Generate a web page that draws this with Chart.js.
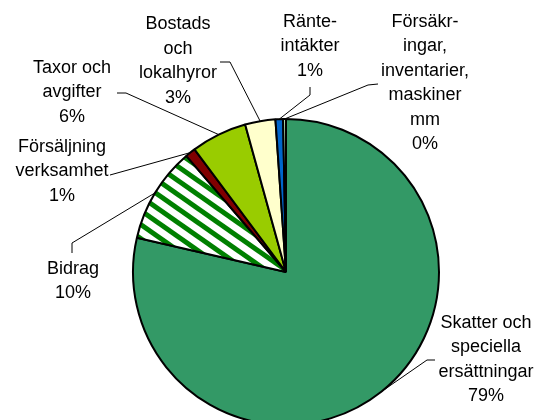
<!DOCTYPE html>
<html>
<head>
<meta charset="utf-8">
<script src="https://cdn.jsdelivr.net/npm/chart.js@4.4.1/dist/chart.umd.min.js"></script>
<style>
  html, body { margin: 0; padding: 0; background: #fff; }
  #wrap { width: 537px; height: 420px; }
</style>
</head>
<body>
<div id="wrap"><canvas id="myChart"></canvas></div>
<script>
// Categories (line breaks as in the labels)
const categories = [
    'Skatter och\nspeciella\nersättningar',
    'Bidrag',
    'Försäljning\nverksamhet',
    'Taxor och\navgifter',
    'Bostads\noch\nlokalhyror',
    'Ränte-\nintäkter',
    'Försäkr-\ningar,\ninventarier,\nmaskiner\nmm'
]

// Share of income, percent
const shares = [78.6, 10.1, 1.1, 5.9, 3.2, 0.8, 0.3]

const sliceColors = ['#339966', 'stripes', '#800000', '#99CC00', '#FFFFCC', '#0066CC', '#CCFFCC']

// Where each label sits and where its leader line leaves it
const labelLayout = [
    { x: 486, y: 323, path: [[435, 360], [427, 360]] },
    { x: 73,  y: 269, path: [[72, 253], [72, 243]] },
    { x: 62,  y: 147, path: [[110, 175]] },
    { x: 72,  y: 68,  path: [[117, 93], [126, 93]] },
    { x: 178, y: 24.5, path: [[220, 62], [230, 62]] },
    { x: 310, y: 22,  path: [[310, 87], [310, 95]] },
    { x: 425, y: 22,  path: [[378, 84], [368, 85]] }
]
const lineHeight = 24.5

// Green/white diagonal hatch used by "Bidrag"
function makeStripes() {
    const W = 20, H = 14
    const c = document.createElement('canvas')
    c.width = W
    c.height = H
    const g = c.getContext('2d')
    g.fillStyle = '#fff'
    g.fillRect(0, 0, W, H)
    g.strokeStyle = '#008000'
    g.lineWidth = 5
    for (let k = -1; k <= 1; k++) {
        g.beginPath()
        g.moveTo(-W, -H + k * H)
        g.lineTo(2 * W, 2 * H + k * H)
        g.stroke()
    }
    return g.createPattern(c, 'repeat')
}

const total = shares.reduce((a, b) => a + b, 0)

const pieLabels = {
    id: 'pieLabels',
    afterDatasetsDraw(chart) {
        const ctx = chart.ctx
        const arcs = chart.getDatasetMeta(0).data
        ctx.save()
        ctx.font = '18px "Liberation Sans", Arial, sans-serif'
        ctx.fillStyle = '#000'
        ctx.strokeStyle = '#000'
        ctx.lineWidth = 1
        ctx.textAlign = 'center'
        ctx.textBaseline = 'middle'
        arcs.forEach((arc, i) => {
            const p = arc.getProps(['x', 'y', 'startAngle', 'endAngle', 'outerRadius'], true)
            const mid = (p.startAngle + p.endAngle) / 2
            const ex = p.x + Math.cos(mid) * p.outerRadius
            const ey = p.y + Math.sin(mid) * p.outerRadius
            const lay = labelLayout[i]

            // leader line
            ctx.beginPath()
            ctx.moveTo(lay.path[0][0], lay.path[0][1])
            lay.path.slice(1).forEach(pt => ctx.lineTo(pt[0], pt[1]))
            ctx.lineTo(ex, ey)
            ctx.stroke()

            // label text
            const pct = Math.round(shares[i] / total * 100) + '%'
            const lines = categories[i].split('\n').concat(pct)
            lines.forEach((t, j) => ctx.fillText(t, lay.x, lay.y + j * lineHeight))
        })
        ctx.restore()
    }
}

const ctx = document.getElementById('myChart').getContext('2d')
const stripes = makeStripes()

new Chart(ctx, {
    type: 'pie',
    data: {
        labels: categories,
        datasets: [{
            data: shares,
            backgroundColor: sliceColors.map(c => c === 'stripes' ? stripes : c),
            borderColor: '#000',
            borderWidth: 2,
            radius: 153,
            clip: false
        }]
    },
    options: {
        responsive: true,
        maintainAspectRatio: false,
        animation: false,
        layout: { padding: { left: 35, top: 124, right: 0, bottom: 0 } },
        plugins: {
            legend: { display: false },
            tooltip: { enabled: false }
        }
    },
    plugins: [pieLabels]
})
</script>
</body>
</html>
